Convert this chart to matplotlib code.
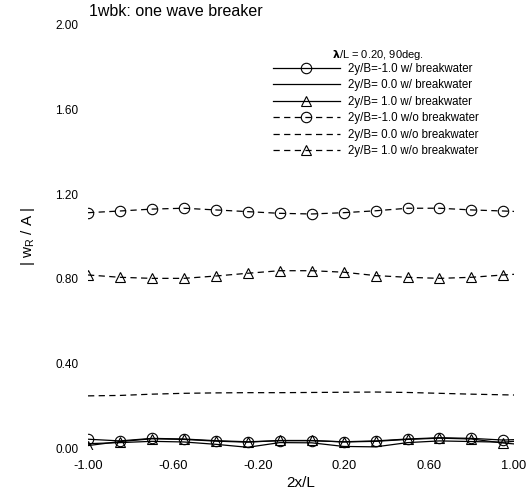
import matplotlib
matplotlib.use('Agg')
import matplotlib.pyplot as plt

plt.rcParams['font.family'] = ['Liberation Sans', 'DejaVu Sans']
plt.rcParams['mathtext.fontset'] = 'custom'
plt.rcParams['mathtext.rm'] = 'Liberation Sans'
plt.rcParams['mathtext.it'] = 'Liberation Sans'

# positions along the body, 2x/L (markers every 0.15, line ends at 1.0)
x = [-1.0, -0.85, -0.7, -0.55, -0.4, -0.25, -0.1, 0.05, 0.2, 0.35, 0.5, 0.65, 0.8, 0.95, 1.0]

# with breakwater
w_m10 = [0.046, 0.038, 0.050, 0.047, 0.039, 0.034, 0.039, 0.039, 0.034, 0.038, 0.047, 0.053, 0.050, 0.042, 0.044]
w_00 = [0.025, 0.030, 0.036, 0.033, 0.022, 0.008, 0.030, 0.029, 0.012, 0.010, 0.030, 0.038, 0.035, 0.032, 0.036]
w_p10 = [0.016, 0.035, 0.048, 0.045, 0.037, 0.032, 0.040, 0.040, 0.033, 0.036, 0.045, 0.051, 0.047, 0.028, 0.024]

# without breakwater
wo_m10 = [1.112, 1.120, 1.129, 1.133, 1.125, 1.117, 1.109, 1.106, 1.112, 1.121, 1.133, 1.133, 1.125, 1.120, 1.118]
wo_00 = [0.250, 0.252, 0.258, 0.262, 0.264, 0.265, 0.265, 0.266, 0.267, 0.268, 0.266, 0.262, 0.258, 0.255, 0.254]
wo_p10 = [0.819, 0.808, 0.803, 0.803, 0.814, 0.827, 0.839, 0.839, 0.832, 0.816, 0.808, 0.803, 0.808, 0.819, 0.822]

labels = ['2y/B=-1.0 w/ breakwater', '2y/B= 0.0 w/ breakwater', '2y/B= 1.0 w/ breakwater',
          '2y/B=-1.0 w/o breakwater', '2y/B= 0.0 w/o breakwater', '2y/B= 1.0 w/o breakwater']

xticks = [-1.0, -0.6, -0.2, 0.2, 0.6, 1.0]
yticks = [0.0, 0.4, 0.8, 1.2, 1.6, 2.0]

fig = plt.figure(figsize=(5.29, 4.90), dpi=100)
ax = fig.add_axes([0.1664, 0.0837, 0.8053, 0.8673])

dash = (5, 3.5)
mk = dict(markersize=7.5, markerfacecolor='none', markeredgecolor='black', markeredgewidth=0.8,
          markevery=slice(0, 14))
ax.plot(x, w_m10, color='black', lw=0.9, marker='o', label=labels[0], **mk)
ax.plot(x, w_00, color='black', lw=0.9, label=labels[1])
ax.plot(x, w_p10, color='black', lw=0.9, marker='^', label=labels[2], **mk)
ax.plot(x, wo_m10, color='black', lw=0.9, ls=(0, dash), marker='o', label=labels[3], **mk)
ax.plot(x, wo_00, color='black', lw=0.9, ls=(0, dash), label=labels[4])
ax.plot(x, wo_p10, color='black', lw=0.9, ls=(0, dash), marker='^', label=labels[5], **mk)

ax.set_xlim(-1, 1)
ax.set_ylim(0, 2)
ax.set_xticks(xticks)
ax.set_yticks(yticks)
ax.set_xticklabels(['%.2f' % v for v in xticks])
ax.set_yticklabels(['%.2f' % v for v in yticks])
ax.tick_params(length=0)
ax.tick_params(axis='x', pad=8, labelsize=9.3)
ax.tick_params(axis='y', pad=7, labelsize=8.5)
for s in ax.spines.values():
    s.set_visible(False)

ax.set_xlabel('2x/L', fontsize=11, labelpad=3)
ax.set_ylabel(r'$|\ w_R\ /\ A\ |$', fontsize=11, labelpad=13)

fig.text(0.168, 1 - 12 / 490, '1wbk: one wave breaker', fontsize=11.5, ha='left', va='center')

leg = ax.legend(loc='upper left', bbox_to_anchor=(273 / 529, 1 - 63 / 490), bbox_transform=fig.transFigure,
                frameon=False, fontsize=8.3, handlelength=5.8, handletextpad=0.7, labelspacing=0.39,
                borderpad=0, borderaxespad=0)
fig.text(332 / 529, 1 - 55 / 490, r'$\mathbf{\lambda}$/L = 0.20, 90deg.', fontsize=8, ha='left', va='center')

fig.savefig('out.png', dpi=100)
